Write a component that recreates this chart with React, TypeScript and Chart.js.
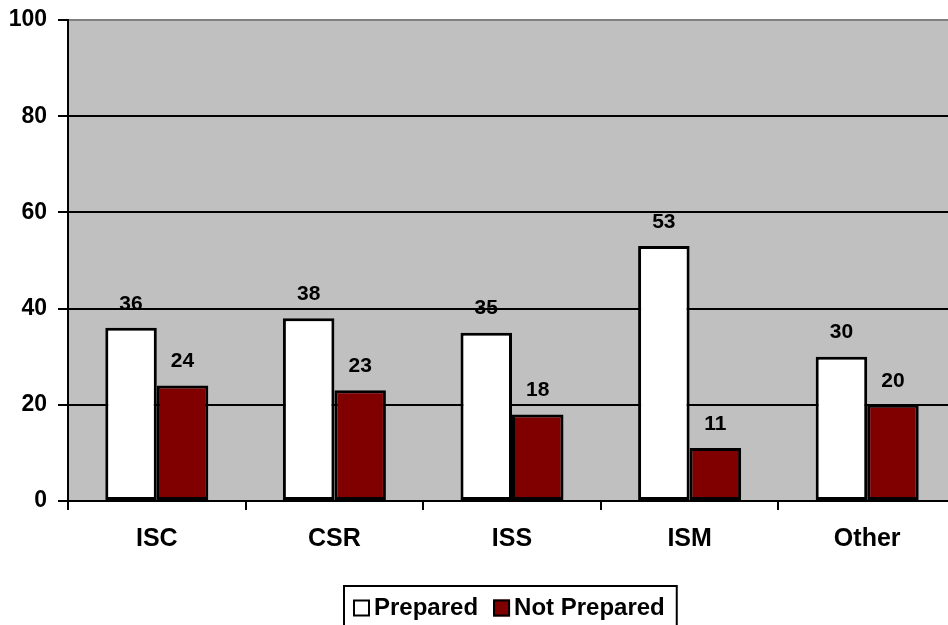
import React, { useEffect, useRef } from "react";
import { Chart, registerables } from "chart.js";

Chart.register(...registerables);

// Survey results per group
const categories = ["ISC", "CSR", "ISS", "ISM", "Other"];
const seriesNames = ["Prepared", "Not Prepared"];
const preparedValues = [36, 38, 35, 53, 30];
const notPreparedValues = [24, 23, 18, 11, 20];
const yAxisMin = 0;
const yAxisMax = 100;
const yAxisStep = 20;

const FONT = '"Liberation Sans", Arial, Helvetica, sans-serif';

// Gray plot area behind the grid
const plotBackground = {
  id: "plotBackground",
  beforeDraw(chart: any) {
    const { ctx, chartArea } = chart;
    ctx.save();
    ctx.fillStyle = "#C0C0C0";
    ctx.fillRect(chartArea.left, chartArea.top, chartArea.right - chartArea.left, chartArea.bottom - chartArea.top);
    ctx.restore();
  },
};

// Value labels above every bar
const valueLabels = {
  id: "valueLabels",
  afterDatasetsDraw(chart: any) {
    const { ctx } = chart;
    ctx.save();
    ctx.font = `bold 21px ${FONT}`;
    ctx.fillStyle = "#000";
    ctx.textAlign = "center";
    ctx.textBaseline = "middle";
    chart.data.datasets.forEach((ds: any, di: number) => {
      const meta = chart.getDatasetMeta(di);
      meta.data.forEach((bar: any, i: number) => {
        ctx.fillText(String(ds.data[i]), bar.x, bar.y - 24);
      });
    });
    ctx.restore();
  },
};

// Boxed legend under the category labels
const boxedLegend = {
  id: "boxedLegend",
  afterDraw(chart: any) {
    const { ctx, chartArea } = chart;
    ctx.save();
    ctx.font = `bold 24px ${FONT}`;
    const sq = 17;
    const gapText = 4;
    const gapItems = 15;
    const padL = 9;
    const padR = 12;
    const items = chart.data.datasets.map((ds: any) => ({
      label: ds.label,
      fill: ds.backgroundColor,
      w: ctx.measureText(ds.label).width,
    }));
    let width = padL + padR;
    items.forEach((it: any, i: number) => {
      width += sq + gapText + it.w + (i < items.length - 1 ? gapItems : 0);
    });
    const cx = (chartArea.left + chartArea.right) / 2;
    const left = Math.round(cx - width / 2) - 2;
    const top = chartArea.bottom + 85;
    ctx.fillStyle = "#fff";
    ctx.fillRect(left, top, width, 80);
    ctx.strokeStyle = "#000";
    ctx.lineWidth = 2;
    ctx.strokeRect(left, top, width, 80);
    const midY = top + 22;
    let x = left + padL;
    items.forEach((it: any) => {
      ctx.fillStyle = it.fill;
      ctx.fillRect(x, midY - sq / 2, sq, sq);
      ctx.strokeStyle = "#000";
      ctx.lineWidth = 2;
      ctx.strokeRect(x + 1, midY - sq / 2 + 1, sq - 2, sq - 2);
      x += sq + gapText;
      ctx.fillStyle = "#000";
      ctx.textAlign = "left";
      ctx.textBaseline = "middle";
      ctx.fillText(it.label, x, midY);
      x += it.w + gapItems;
    });
    ctx.restore();
  },
};

export default function App() {
  const canvasRef = useRef<HTMLCanvasElement | null>(null);

  useEffect(() => {
    if (!canvasRef.current) return;
    const chart = new Chart(canvasRef.current, {
      type: "bar",
      data: {
        labels: categories,
        datasets: [
          {
            label: seriesNames[0],
            data: preparedValues,
            backgroundColor: "#FFFFFF",
            borderColor: "#000000",
            borderWidth: 3,
            borderSkipped: false,
          },
          {
            label: seriesNames[1],
            data: notPreparedValues,
            backgroundColor: "#800000",
            borderColor: "#000000",
            borderWidth: 3,
            borderSkipped: false,
          },
        ],
      },
      options: {
        responsive: false,
        animation: false,
        devicePixelRatio: 1,
        layout: { padding: { top: 20, left: 0, right: 0, bottom: 0 } },
        datasets: {
          bar: { categoryPercentage: 0.58, barPercentage: 1 },
        },
        plugins: {
          legend: { display: false },
          tooltip: { enabled: false },
          title: { display: false },
        },
        scales: {
          x: {
            offset: true,
            grid: {
              offset: true,
              drawOnChartArea: false,
              drawTicks: true,
              tickLength: 9,
              color: "#000",
              lineWidth: 2,
            },
            border: { color: "#000", width: 2 },
            ticks: {
              color: "#000",
              font: { family: FONT, size: 25, weight: "bold" },
              padding: 14,
            },
            afterFit(scale: any) {
              scale.height = 124;
              scale.paddingLeft = 0;
              scale.paddingRight = 0;
            },
          },
          y: {
            min: yAxisMin,
            max: yAxisMax,
            grid: {
              color: (c: any) => (c.tick && c.tick.value === yAxisMax ? "#808080" : "#000"),
              tickColor: "#000",
              lineWidth: 2,
              tickLength: 10,
            },
            border: { color: "#000", width: 2 },
            ticks: {
              stepSize: yAxisStep,
              color: "#000",
              font: { family: FONT, size: 23, weight: "bold" },
              padding: 11,
            },
            afterFit(scale: any) {
              scale.width = 68;
              scale.paddingTop = 0;
              scale.paddingBottom = 0;
            },
          },
        },
      },
      plugins: [plotBackground, valueLabels, boxedLegend],
    } as any);
    return () => chart.destroy();
  }, []);

  return (
    <div
      style={{
        position: "fixed",
        left: 0,
        top: 0,
        width: 948,
        height: 625,
        overflow: "hidden",
        background: "#fff",
      }}
    >
      <canvas ref={canvasRef} width={956} height={625} style={{ display: "block" }} />
    </div>
  );
}
